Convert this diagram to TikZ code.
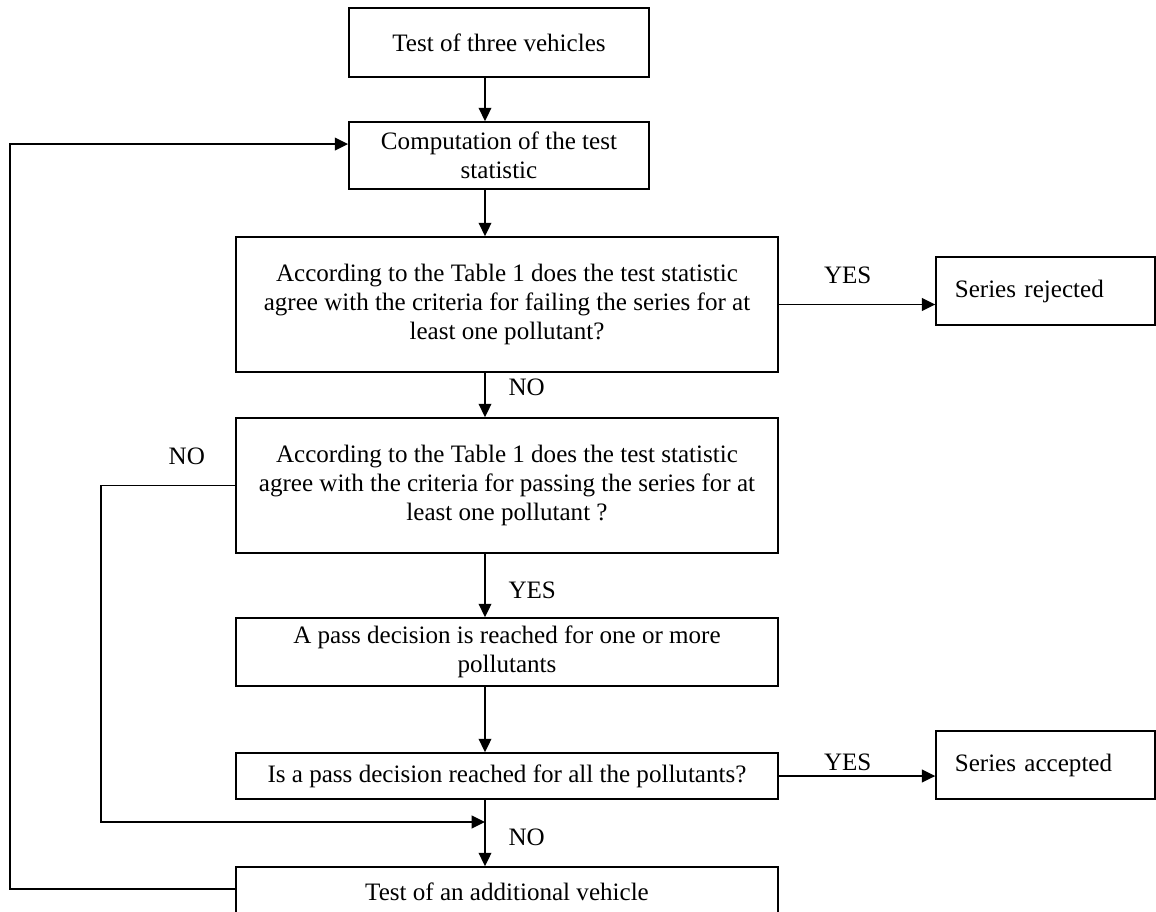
\documentclass[tikz,border=0pt]{standalone}
\usepackage{fontspec}
\setmainfont{Liberation Serif}
\usetikzlibrary{positioning,arrows.meta}

\begin{document}
\fontsize{18.8}{21.75}\selectfont
\begin{tikzpicture}[x=0.75pt,y=-0.75pt,->,>={Triangle[length=10pt,width=9.5pt]},line width=1.3pt,
    box/.style={draw,rectangle,align=center,inner sep=0pt,minimum width=406.5pt},
    smallbox/.style={draw,rectangle,align=center,inner sep=0pt,minimum width=225pt},
    endbox/.style={draw,rectangle,align=left,inner xsep=14pt,inner ysep=0pt,text width=136pt,minimum height=51pt},
    lbl/.style={inner sep=0pt}]
        \useasboundingbox (0,0) rectangle (1156,911);
        \clip (0,0) rectangle (1156,911);

        \coordinate (spine) at (485,0);
        \coordinate (noline) at (101,0);
        \coordinate (loopline) at (10,0);
        \coordinate (merge) at (485,822);

        \node[smallbox,minimum height=51.75pt] (test3) at (499,42.5) {Test of three vehicles};
        \node[smallbox,minimum height=50.25pt] (comp) at (499,155.5) {Computation of the test\\statistic};
        \node[box,minimum height=101.25pt] (fail) at (507,304.5) {According to the Table 1 does the test statistic\\agree with the criteria for failing the series for at\\least one pollutant?};
        \node[box,minimum height=101.25pt] (pass) at (507,485.5) {According to the Table 1 does the test statistic\\agree with the criteria for passing the series for at\\least one pollutant ?};
        \node[box,minimum height=51pt] (onemore) at (507,652) {A pass decision is reached for one or more\\pollutants};
        \node[box,minimum height=34.5pt] (allpass) at (507,776) {Is a pass decision reached for all the pollutants?};
        \node[box,minimum height=37.5pt] (extra) at (507,892) {Test of an additional vehicle};
        \node[endbox] (rejected) at (1045.5,291) {Series rejected};
        \node[endbox] (accepted) at (1045.5,765) {Series accepted};

        \draw (test3.south -| spine) -- (comp.north -| spine);
        \draw (comp.south -| spine) -- (fail.north -| spine);
        \draw (fail.south -| spine) -- node[lbl,right=17pt,pos=.33] {NO} (pass.north -| spine);
        \draw (pass.south -| spine) -- node[lbl,right=17pt,pos=.57] {YES} (onemore.north -| spine);
        \draw (onemore.south -| spine) -- (allpass.north -| spine);
        \draw (allpass.south -| spine) -- node[lbl,right=17pt,pos=.56] {NO} (extra.north -| spine);
        \draw (fail.east) -- node[lbl,above=15pt,pos=.44] {YES} (fail.east -| rejected.west);
        \draw (allpass.east) -- node[lbl,above=3pt,pos=.44] {YES} (allpass.east -| accepted.west);
        \draw (pass.west) -- node[lbl,above=15pt,pos=.36] {NO} (pass.west -| noline) |- (merge);
        \draw ([yshift=2pt]extra.west) -- ([yshift=2pt]extra.west -| loopline) |- ([yshift=8.6pt]comp.west);
\end{tikzpicture}
\end{document}
